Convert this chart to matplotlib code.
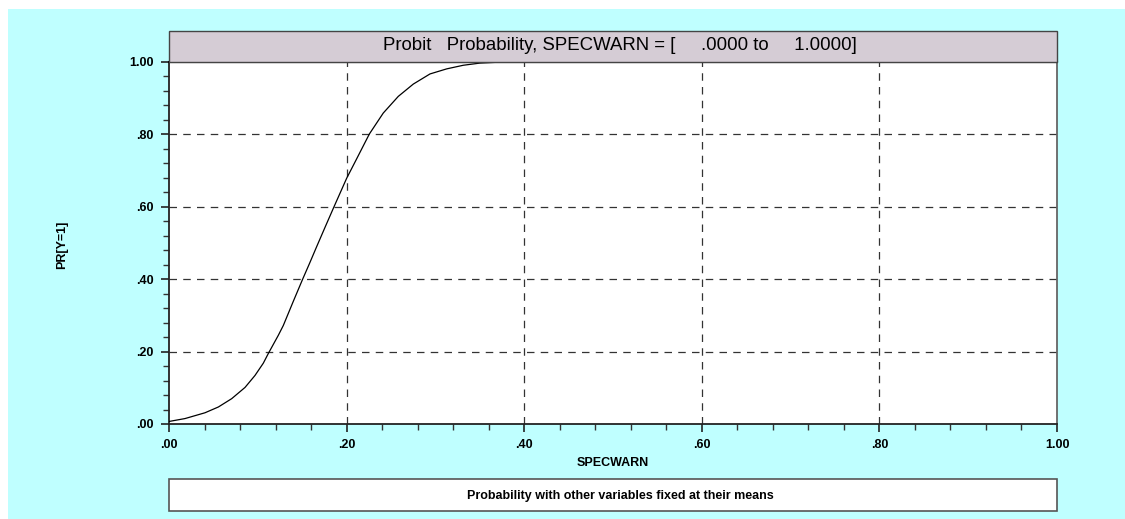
import matplotlib.pyplot as plt
from matplotlib.patches import Rectangle
from matplotlib.ticker import MultipleLocator, FuncFormatter

plt.rcParams['font.family'] = ['Liberation Sans', 'DejaVu Sans']

# points
specwarn = [0.0, 0.018, 0.0405, 0.0556, 0.0706, 0.0856, 0.0968, 0.1062, 0.1119,
            0.1231, 0.1287, 0.1400, 0.1505, 0.1585, 0.1663, 0.1760, 0.1858,
            0.2001, 0.2106, 0.2256, 0.2413, 0.2582, 0.2751, 0.2939, 0.3127,
            0.3314, 0.3502, 0.376, 1.0]
prob = [0.007, 0.015, 0.031, 0.047, 0.070, 0.101, 0.134, 0.168, 0.195,
        0.245, 0.272, 0.339, 0.400, 0.445, 0.490, 0.545, 0.600,
        0.679, 0.729, 0.801, 0.859, 0.905, 0.939, 0.967, 0.981,
        0.991, 0.997, 1.0, 1.0]
major_ticks = [0.0, 0.2, 0.4, 0.6, 0.8, 1.0]

title = 'Probit   Probability, SPECWARN = [     .0000 to     1.0000]'
footer = 'Probability with other variables fixed at their means'

W, H = 1125, 519
fig = plt.figure(figsize=(W / 100, H / 100), dpi=100)
fig.patch.set_facecolor('white')


def fx(px):
    return px / W


def fy(py):
    return 1 - py / H


# cyan background panel
fig.patches.append(Rectangle((fx(8), 0), 1 - fx(8), fy(9), transform=fig.transFigure,
                             facecolor='#BFFFFF', edgecolor='none', zorder=0))

left, right, top, bottom = 169, 1057, 62, 424
ax = fig.add_axes([fx(left), fy(bottom), fx(right - left), (bottom - top) / H])
ax.set_zorder(2)
ax.set_facecolor('white')
ax.plot(specwarn, prob, color='black', lw=0.9, zorder=3)
ax.set_xlim(0, 1)
ax.set_ylim(0, 1)

for t in major_ticks[1:-1]:
    ax.axvline(t, color='#333333', lw=0.9, ls=(0, (6, 5)), zorder=1)
    ax.axhline(t, color='#333333', lw=0.9, ls=(0, (6, 5)), zorder=1)

fmt = FuncFormatter(lambda v, p: ('%.2f' % v).lstrip('0') if v < 1 else '1.00')
for axis in (ax.xaxis, ax.yaxis):
    axis.set_major_locator(MultipleLocator(0.2))
    axis.set_minor_locator(MultipleLocator(0.04))
    axis.set_major_formatter(fmt)
ax.tick_params(which='major', direction='out', length=6, width=1.2, color='#222222',
               labelsize=9, pad=5)
ax.tick_params(which='minor', direction='out', length=4, width=1.0, color='#333333')
for lab in ax.get_xticklabels() + ax.get_yticklabels():
    lab.set_fontweight('bold')

ax.spines['left'].set_color('#222222')
ax.spines['left'].set_linewidth(1.3)
ax.spines['bottom'].set_color('#222222')
ax.spines['bottom'].set_linewidth(1.3)
ax.spines['top'].set_color('black')
ax.spines['top'].set_linewidth(1.5)
ax.spines['right'].set_color('#666666')
ax.spines['right'].set_linewidth(1.3)

fig.text(fx(613), fy(463), 'SPECWARN', fontsize=9, fontweight='bold',
         ha='center', va='center')
fig.text(fx(62), fy(245), 'PR[Y=1]', rotation=90, fontsize=9, fontweight='bold',
         ha='center', va='center')

# title box
fig.patches.append(Rectangle((fx(left), fy(top)), fx(right - left), (top - 31) / H,
                             transform=fig.transFigure, facecolor='#D5CCD5',
                             edgecolor='#444444', lw=1.0, zorder=2))
fig.text(fx(620), fy(46), title, fontsize=13.4, ha='center', va='center', zorder=3)

# footer box
fig.patches.append(Rectangle((fx(left), fy(511)), fx(right - left), 32 / H,
                             transform=fig.transFigure, facecolor='white',
                             edgecolor='#555555', lw=1.2, zorder=2))
fig.text(fx(620), fy(496), footer, fontsize=9, fontweight='bold',
         ha='center', va='center', zorder=3)

fig.savefig('out.png', dpi=100)
